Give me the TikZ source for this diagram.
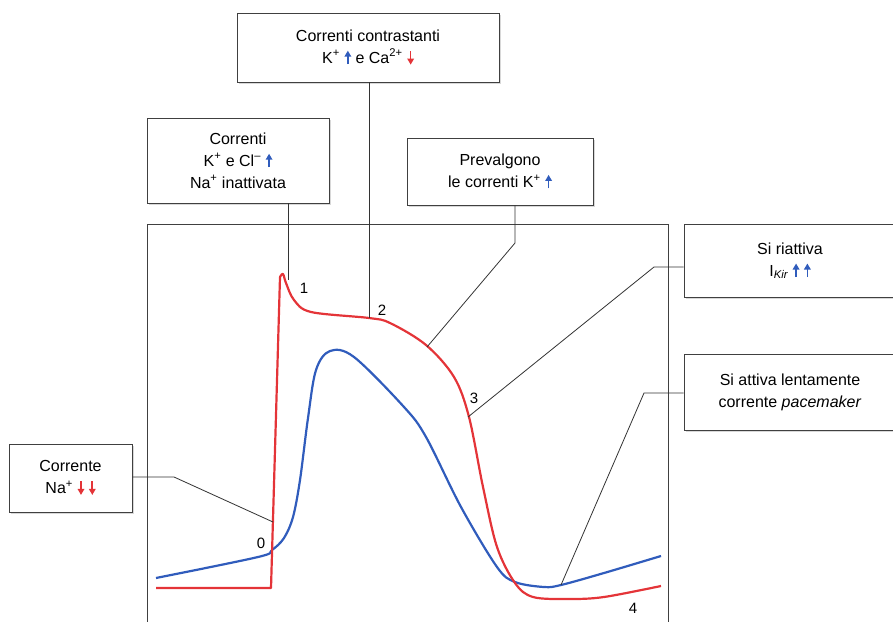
\documentclass[tikz,border=0pt]{standalone}
\usepackage{fontspec}
\setmainfont{Liberation Sans}
\usepackage{xcolor}
\usetikzlibrary{shadows,arrows.meta}
\definecolor{rossoap}{RGB}{228,52,56}
\definecolor{bluap}{RGB}{48,92,188}
\newcommand{\su}{\hspace{0.3em}\tikz[baseline=0pt,x=1pt,y=1pt]\draw[bluap,line width=1.6pt,
  -{Triangle[length=6pt,width=6.5pt]}] (0,-1) -- (0,12.5);}
\newcommand{\giu}{\hspace{0.3em}\tikz[baseline=0pt,x=1pt,y=1pt]\draw[rossoap,line width=1.6pt,
  -{Triangle[length=6pt,width=6.5pt]}] (0,12) -- (0,-1.5);}

\begin{document}
\begin{tikzpicture}[x=1pt, y=-1pt,
    box/.style = {shape=rectangle, draw=black!75, line width=0.9pt, fill=white,
      align=center, inner sep=0pt,
      drop shadow={shadow xshift=1.5pt, shadow yshift=-2pt, fill=black!30},
      font=\fontsize{16}{22}\selectfont},
    num/.style = {font=\fontsize{15}{16}\selectfont},
    lead/.style = {draw=black!80, line width=0.8pt},
    curva/.style = {line width=2.2pt, line join=round}]
  \useasboundingbox (0,0) rectangle (893,621);
  % cornice del grafico
  \draw[black!75, line width=0.9pt] (147,632) -- (147,224) -- (668,224) -- (668,632);

  % curve
  \draw[curva, bluap] plot[smooth, tension=0.55] coordinates {(156,578) (258,557)
    (272,550) (284,538) (293,517) (300,480) (308,418) (316,370) (330,351)
    (354,357) (404,407) (426,437) (461,507) (497,567) (515,582) (544,587)
    (561,585) (604,573) (661,556)};
  \draw[curva, rossoap] (156,588) -- (271,588) -- (280,277)
    plot[smooth, tension=0.55] coordinates {(280,277) (283,274) (286,283)
    (294,300) (311,312) (369,318) (390,323) (426,345) (454,377) (469,417)
    (483,487) (497,547) (515,583) (533,597) (569,599) (604,597) (661,586)};

  % punti sulle curve
  \coordinate (p0) at (273,522);
  \coordinate (p1) at (288,280);
  \coordinate (p2) at (369,318);
  \coordinate (p3) at (427,347);
  \coordinate (p4) at (468,417);
  \coordinate (p5) at (561,585);
  \coordinate (k0) at (174,477);
  \coordinate (k3) at (515,243);
  \coordinate (k4) at (654,267);
  \coordinate (k5) at (644,393);

  \node[num] (n0) at (261,543) {0};
  \node[num] (n1) at (304,288) {1};
  \node[num] (n2) at (382,310) {2};
  \node[num] (n3) at (474,398) {3};
  \node[num] (n4) at (633,608) {4};

  % riquadri
  \node[box, minimum width=262pt, minimum height=69pt] (contr) at (368,47.5)
    {Correnti contrastanti\\K\textsuperscript{+}\su{} e Ca\textsuperscript{2+}\giu};
  \node[box, minimum width=182pt, minimum height=85pt] (corr) at (238,160.5)
    {Correnti\\K\textsuperscript{+} e Cl\textsuperscript{–}\su\\Na\textsuperscript{+} inattivata};
  \node[box, minimum width=186pt, minimum height=67pt] (prev) at (500,171.5)
    {Prevalgono\\le correnti K\textsuperscript{+}\su};
  \node[box, minimum width=212pt, minimum height=73pt] (riatt) at (790,260.5)
    {Si riattiva\\I\textsubscript{\itshape Kir}\su\su};
  \node[box, minimum width=212pt, minimum height=76pt] (attiva) at (790,392)
    {Si attiva lentamente\\corrente \textit{pacemaker}};
  \node[box, minimum width=123pt, minimum height=68pt] (na) at (70.5,478)
    {Corrente\\Na\textsuperscript{+}\giu\giu};

  % linee di richiamo
  \draw[lead] (na.east |- k0) -- (k0) -- (p0);
  \draw[lead] (corr.south -| p1) -- (p1);
  \draw[lead] (contr.south -| p2) -- (p2);
  \draw[lead] (prev.south -| k3) -- (k3) -- (p3);
  \draw[lead] (riatt.west |- k4) -- (k4) -- (p4);
  \draw[lead] (attiva.west |- k5) -- (k5) -- (p5);
\end{tikzpicture}
\end{document}
